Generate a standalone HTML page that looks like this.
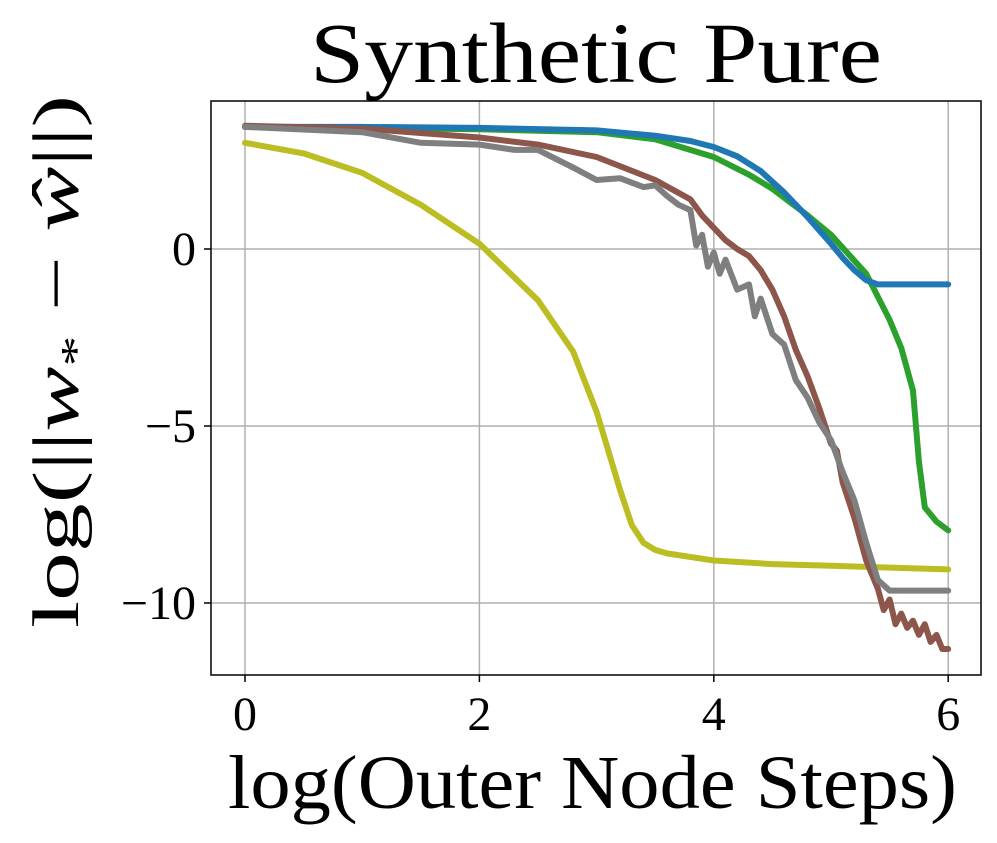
<!DOCTYPE html>
<html><head><meta charset="utf-8"><style>
body{margin:0;background:#fff;}
svg{display:block;font-family:"Liberation Serif","DejaVu Serif",serif;}
</style></head><body>
<svg id="chart" width="997" height="843">
<rect x="0" y="0" width="997" height="843" fill="#fff"/>
<g id="grid"></g>
<g id="series"></g>
<rect x="211" y="101" width="770" height="574" fill="none" stroke="#000" stroke-width="1.5"/>
<g id="ticks"></g>
<text x="310" y="82" font-size="86" textLength="572" lengthAdjust="spacingAndGlyphs">Synthetic Pure</text>
<text x="228" y="808" font-size="76" textLength="729" lengthAdjust="spacingAndGlyphs">log(Outer Node Steps)</text>
<text transform="translate(78,628) rotate(-90)" font-size="66" textLength="533" lengthAdjust="spacingAndGlyphs">log(||<tspan font-style="italic">w</tspan><tspan font-size="42" dy="12">*</tspan><tspan dy="-12"> − </tspan><tspan font-style="italic">ŵ</tspan>||)</text>
</svg>
<script>
const xTicks=[0,2,4,6];
const yTicks=[0,-5,-10];
const yTickLabels=["0","−5","−10"];
const blueX=[0,1,2,3,3.5,3.8,4,4.2,4.4,4.6,4.8,5.0,5.1,5.2,5.3,5.4,5.6,6];
const blueY=[3.45,3.45,3.42,3.35,3.2,3.05,2.88,2.62,2.2,1.6,0.9,0.15,-0.25,-0.6,-0.88,-1.0,-1.0,-1.0];
const greenX=[0,1,2,3,3.5,4,4.3,4.5,4.8,5.0,5.3,5.5,5.6,5.7,5.75,5.8,5.9,6];
const greenY=[3.45,3.42,3.38,3.3,3.1,2.6,2.1,1.7,0.95,0.4,-0.7,-2.0,-2.8,-4.0,-6.0,-7.3,-7.7,-7.95];
const oliveX=[0,0.5,1,1.5,2,2.5,2.8,3,3.2,3.3,3.4,3.5,3.6,4,4.5,5,5.5,6];
const oliveY=[3.0,2.7,2.15,1.25,0.15,-1.45,-2.9,-4.6,-6.8,-7.8,-8.3,-8.5,-8.6,-8.8,-8.9,-8.95,-9.0,-9.05];
const brownX=[0,1,2,2.5,3,3.5,3.8,3.9,4.0,4.1,4.2,4.3,4.4,4.5,4.6,4.7,4.8,4.9,5.0,5.05,5.1,5.2,5.3,5.4,5.45,5.5,5.55,5.6,5.65,5.7,5.75,5.8,5.85,5.9,5.95,6];
const brownY=[3.48,3.4,3.15,2.95,2.6,1.95,1.4,0.95,0.6,0.25,0.0,-0.2,-0.6,-1.15,-1.9,-2.85,-3.6,-4.5,-5.5,-5.7,-6.6,-7.6,-8.8,-9.6,-10.2,-9.9,-10.6,-10.3,-10.7,-10.5,-10.9,-10.6,-11.1,-10.9,-11.3,-11.3];
const grayX=[0,1,1.5,2,2.3,2.5,2.8,3,3.2,3.4,3.5,3.6,3.7,3.8,3.85,3.9,3.95,4.0,4.05,4.1,4.2,4.3,4.35,4.4,4.5,4.6,4.7,4.8,4.9,5.0,5.1,5.2,5.3,5.4,5.5,6];
const grayY=[3.45,3.3,3.0,2.95,2.8,2.8,2.3,1.95,2.0,1.75,1.8,1.5,1.25,1.1,0.1,0.4,-0.5,-0.1,-0.7,-0.3,-1.15,-1.0,-1.9,-1.4,-2.4,-2.7,-3.7,-4.2,-4.9,-5.4,-6.3,-7.1,-8.3,-9.35,-9.65,-9.65];
const X=v=>245+v*117.2, Y=v=>249-v*35.4;
const NS="http://www.w3.org/2000/svg";
const grid=document.getElementById('grid'), ticks=document.getElementById('ticks'), ser=document.getElementById('series');
function mk(tag,attrs,parent){const e=document.createElementNS(NS,tag);for(const k in attrs)e.setAttribute(k,attrs[k]);parent.appendChild(e);return e;}
xTicks.forEach(t=>{
  const g=mk('line',{x1:X(t),x2:X(t),y1:101,y2:675,stroke:'#b0b0b0','stroke-width':1.5},grid);
  
  
  const tk=mk('line',{x1:X(t),x2:X(t),y1:675,y2:682,stroke:'#000','stroke-width':1.5},ticks);
  
  
  const lb=mk('text',{x:X(t),y:730,'font-size':48,'text-anchor':'middle'},ticks);lb.textContent=String(t);
  
  
});
yTicks.forEach((t,i)=>{
  const g=mk('line',{x1:211,x2:981,y1:Y(t),y2:Y(t),stroke:'#b0b0b0','stroke-width':1.5},grid);
  
  
  const tk=mk('line',{x1:204,x2:211,y1:Y(t),y2:Y(t),stroke:'#000','stroke-width':1.5},ticks);
  
  
  const lb=mk('text',{x:196,y:Y(t)+16,'font-size':48,'text-anchor':'end'},ticks);lb.textContent=yTickLabels[i];
  
  
});
function line(xs,ys,color,name){
  const d=xs.map((x,i)=>(i?'L':'M')+X(x).toFixed(1)+','+Y(ys[i]).toFixed(1)).join('');
  const p=mk('path',{d:d,fill:'none',stroke:color,'stroke-width':6,'stroke-linejoin':'round','stroke-linecap':'round'},ser);
  
  
}
line(oliveX,oliveY,'#bcbd22','series-olive');
line(greenX,greenY,'#2ca02c','series-green');
line(blueX,blueY,'#1f77b4','series-blue');
line(brownX,brownY,'#8c564b','series-brown');
line(grayX,grayY,'#7f7f7f','series-gray');
</script>
</body></html>
